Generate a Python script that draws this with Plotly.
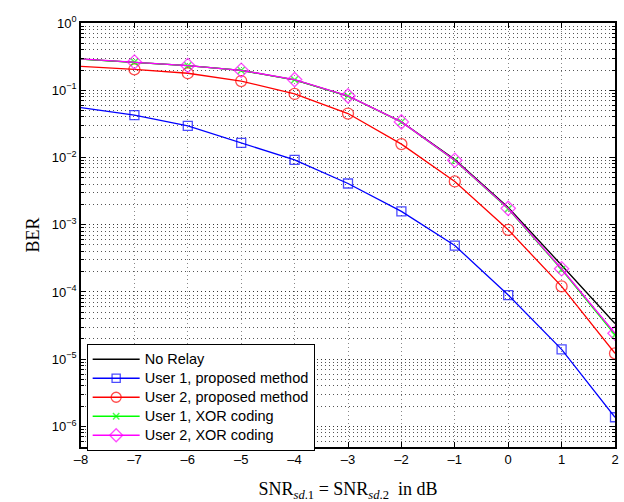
import plotly.graph_objects as go

snr_db = [-8, -7, -6, -5, -4, -3, -2, -1, 0, 1, 2]

ber_no_relay = [0.290, 0.262, 0.232, 0.197, 0.143, 0.082, 0.034, 0.0093, 0.00180, 2.5e-4, 3.4e-5]
ber_u1_prop = [0.0553, 0.0425, 0.0295, 0.0165, 0.0092, 0.0041, 0.00158, 4.9e-4, 9.0e-5, 1.40e-5, 1.37e-6]
ber_u2_prop = [0.227, 0.205, 0.179, 0.137, 0.088, 0.045, 0.0158, 0.0044, 8.4e-4, 1.21e-4, 1.22e-5]
ber_u1_xor = [0.291, 0.262, 0.232, 0.197, 0.143, 0.082, 0.0336, 0.0090, 0.00172, 2.15e-4, 2.3e-5]
ber_u2_xor = [0.292, 0.263, 0.233, 0.198, 0.144, 0.0823, 0.0338, 0.0091, 0.00175, 2.21e-4, 2.43e-5]

x_tick_vals = [-8, -7, -6, -5, -4, -3, -2, -1, 0, 1, 2]
x_tick_text = ["–8", "–7", "–6", "–5", "–4", "–3", "–2", "–1", "0", "1", "2"]
y_tick_vals = [1e-6, 1e-5, 1e-4, 1e-3, 1e-2, 1e-1, 1]
y_tick_text = ["10<sup>−6</sup>", "10<sup>−5</sup>", "10<sup>−4</sup>", "10<sup>−3</sup>",
               "10<sup>−2</sup>", "10<sup>−1</sup>", "10<sup>0</sup>"]

names = ["No Relay", "User 1, proposed method", "User 2, proposed method",
         "User 1, XOR coding", "User 2, XOR coding"]


def legend_name(n):
    return '<span style="font-size:14.5px">' + n + '</span>'


def msizes(s):
    return [0] + [s] * (len(snr_db) - 1)


fig = go.Figure()

fig.add_trace(go.Scatter(x=snr_db, y=ber_no_relay, mode="lines", name=legend_name(names[0]),
                         line=dict(color="#000000", width=1.3)))
fig.add_trace(go.Scatter(x=snr_db, y=ber_u1_prop, mode="lines+markers", name=legend_name(names[1]),
                         line=dict(color="#0000FF", width=1.3),
                         marker=dict(symbol="square-open", size=msizes(9), color="#0000FF",
                                     line=dict(width=1.3))))
fig.add_trace(go.Scatter(x=snr_db, y=ber_u2_prop, mode="lines+markers", name=legend_name(names[2]),
                         line=dict(color="#FF0000", width=1.3),
                         marker=dict(symbol="circle-open", size=msizes(11), color="#FF0000",
                                     line=dict(width=1.3))))
fig.add_trace(go.Scatter(x=snr_db, y=ber_u1_xor, mode="lines+markers", name=legend_name(names[3]),
                         line=dict(color="#00FF00", width=1.3),
                         marker=dict(symbol="x-thin-open", size=msizes(7), color="#00FF00",
                                     line=dict(width=1.5, color="#00FF00"))))
fig.add_trace(go.Scatter(x=snr_db, y=ber_u2_xor, mode="lines+markers", name=legend_name(names[4]),
                         line=dict(color="#FF00FF", width=1.3),
                         marker=dict(symbol="diamond-open", size=msizes(11), color="#FF00FF",
                                     line=dict(width=1.3))))

tick_font = dict(family="Liberation Sans, Arial, sans-serif", size=13, color="black")

fig.update_layout(
    width=624, height=502,
    margin=dict(l=81, r=5, t=23, b=55),
    paper_bgcolor="white", plot_bgcolor="white",
    showlegend=True,
    legend=dict(x=0.0106, y=0.2435, xanchor="left", yanchor="top",
                bgcolor="white", bordercolor="black", borderwidth=1,
                font=dict(family="Liberation Sans, Arial, sans-serif", size=11, color="black"),
                itemwidth=47, tracegroupgap=0),
    xaxis=dict(
        range=[-8, 2], tickvals=x_tick_vals, ticktext=x_tick_text,
        showgrid=True, gridcolor="#888888", griddash="1px,3px", gridwidth=1,
        showline=True, linecolor="black", linewidth=1.5, mirror="ticks",
        ticks="inside", ticklen=5, tickcolor="black", tickfont=tick_font,
        zeroline=False,
        title=dict(text="SNR<sub><i>sd</i>.1</sub> = SNR<sub><i>sd</i>.2</sub>  in dB",
                   font=dict(family="Liberation Serif, Times New Roman, serif", size=18, color="black"),
                   standoff=17),
    ),
    yaxis=dict(
        type="log", range=[-6.306, 0], tickvals=y_tick_vals, ticktext=y_tick_text,
        showgrid=True, gridcolor="#333333", griddash="1px,3px", gridwidth=1,
        showline=True, linecolor="black", linewidth=1.5, mirror="ticks",
        ticks="inside", ticklen=5, tickcolor="black", tickfont=tick_font,
        minor=dict(dtick="D1", showgrid=True, gridcolor="#555555", griddash="1px,3px",
                   gridwidth=1, ticks="inside", ticklen=3, tickcolor="black"),
        zeroline=False,
        title=dict(text="BER",
                   font=dict(family="Liberation Serif, Times New Roman, serif", size=18, color="black"),
                   standoff=8),
    ),
)

fig.write_html("out.html", config={"displayModeBar": False},
               post_script="document.body.style.margin='0';")
